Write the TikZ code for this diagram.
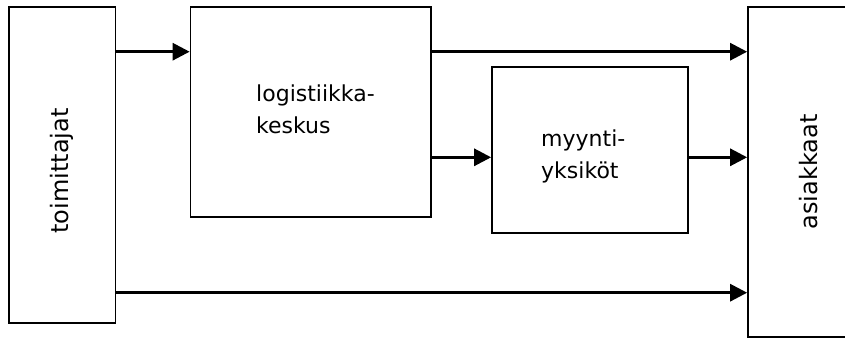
\documentclass[tikz,border=0pt]{standalone}
\usepackage{fontspec}
\setmainfont{DejaVu Sans}
\usetikzlibrary{arrows.meta}

\tikzset{
  box/.style={draw, line width=1.7pt, rectangle, inner sep=0pt},
  lbl/.style={font=\fontsize{22}{32}\selectfont, inner sep=0pt, align=left},
  vlbl/.style={font=\fontsize{24}{32}\selectfont, inner sep=0pt, rotate=90},
  flow/.style={line width=2.9pt, -{Triangle[length=17pt,width=17pt]}},
}

\begin{document}
\begin{tikzpicture}[x=1pt, y=-1pt]
  \useasboundingbox (0,0) rectangle (845,338);
  \clip (0,0) rectangle (845,338);

  % boxes
  \node[box, minimum width=106.5pt, minimum height=316pt] (sup) at (62.25,165) {};
  \node[box, minimum width=240.5pt, minimum height=210pt] (log) at (310.75,112) {};
  \node[box, minimum width=196pt, minimum height=166pt] (myy) at (590,150) {};
  \node[box, minimum width=130pt, minimum height=330pt] (cust) at (813,172) {};

  % box texts
  \node[vlbl] (tsup) at (62,171) {toimittajat};
  \node[lbl, anchor=west] (tlog) at (256,109.5) {logistiikka-\\keskus};
  \node[lbl, anchor=west] (tmyy) at (541,156.7) {myynti-\\yksiköt};
  \node[vlbl] (tcust) at (809,172) {asiakkaat};

  % flow levels
  \coordinate (r1) at (0,51.7);
  \coordinate (r2) at (0,157.3);
  \coordinate (r3) at (0,292.7);

  % flows
  \draw[flow] (sup.east |- r1) -- (log.west |- r1);
  \draw[flow] (log.east |- r1) -- (cust.west |- r1);
  \draw[flow] (log.east |- r2) -- (myy.west |- r2);
  \draw[flow] (myy.east |- r2) -- (cust.west |- r2);
  \draw[flow] (sup.east |- r3) -- (cust.west |- r3);
\end{tikzpicture}
\end{document}
